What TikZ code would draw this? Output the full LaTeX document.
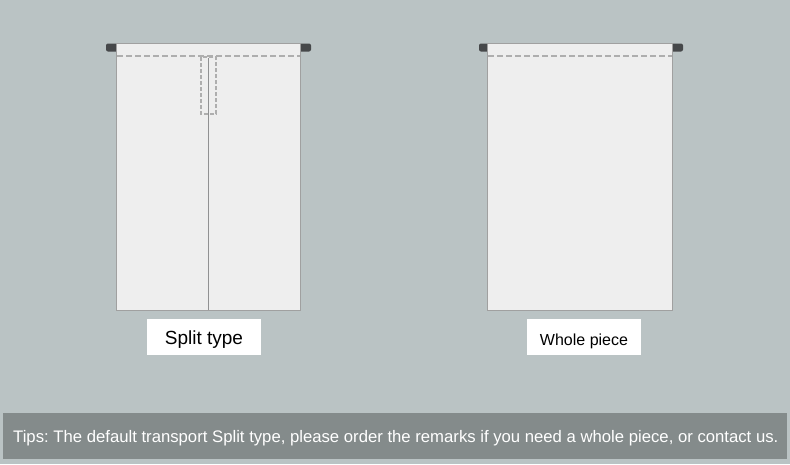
\documentclass[tikz,border=0pt]{standalone}
\usepackage{fontspec}
\setmainfont{Liberation Sans}
\definecolor{bg}{RGB}{186,195,196}
\definecolor{tipbar}{RGB}{132,139,139}
\definecolor{cloth}{RGB}{238,238,238}
\definecolor{edge}{RGB}{160,160,160}
\definecolor{rod}{RGB}{70,72,74}
\frenchspacing
\begin{document}
\begin{tikzpicture}[x=1pt,y=-1pt,
	panel/.style={fill=cloth,draw=edge,line width=0.8pt},
	seam/.style={draw=edge!85,dash pattern=on 6pt off 3pt,line width=1.5pt},
	tag/.style={fill=white,inner sep=0pt,minimum height=36pt}]
		\useasboundingbox (0,0) rectangle (790,464);
		\fill[bg] (0,0) rectangle (790,464);

		% split type
		\fill[rod,rounded corners=2pt] (106,43.5) rectangle (118,51.5);
		\fill[rod,rounded corners=2pt] (299,43.5) rectangle (311,51.5);
		\draw[panel] (116.5,43) rectangle (300.5,310);
		\draw[seam] (117,56) -- (300,56);
		\draw[seam,dash pattern=on 4pt off 2pt,line width=1.1pt] (201,57) rectangle (216,114);
		\draw[draw=rod!60,line width=0.9pt] (208.5,58) -- (208.5,310);

		% whole piece
		\fill[rod,rounded corners=2pt] (479,43.5) rectangle (491,51.5);
		\fill[rod,rounded corners=2pt] (671,43.5) rectangle (683,51.5);
		\draw[panel] (487.5,43) rectangle (672.5,310);
		\draw[seam] (488,56) -- (672,56);

		\node[tag,minimum width=114pt,font=\fontsize{19}{22}\selectfont] (split) at (204,337) {\raisebox{-7.3pt}[0pt][0pt]{Split type}};
		\node[tag,minimum width=114pt,font=\fontsize{16}{19}\selectfont] (whole) at (584,337) {\raisebox{-8pt}[0pt][0pt]{Whole piece}};

		\fill[tipbar] (3,413) rectangle (787,459);
		\node[text=white,anchor=west,inner sep=0pt,font=\fontsize{16.7}{19}\selectfont] (tips) at (13,438) {Tips: The default transport Split type, please order the remarks if you need a whole piece, or contact us.};
	\end{tikzpicture}
\end{document}
